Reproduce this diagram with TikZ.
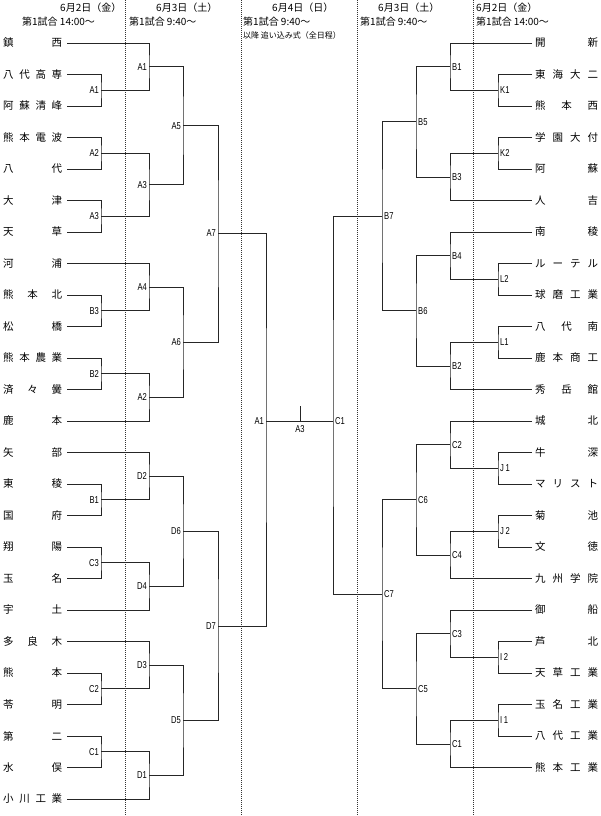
\documentclass[tikz,border=0pt]{standalone}
\usepackage{fontspec}
\setmainfont{Noto Sans CJK JP}
\newfontfamily\jp{Noto Sans CJK JP}
\newfontfamily\lblfont[FakeStretch=0.76]{Liberation Sans}
\tikzset{
  br/.style={draw=black!85, line width=0.8pt},
  sepline/.style={draw=black!80, line width=0.7pt, dash pattern=on 1pt off 1pt},
  lteam/.style={anchor=west, inner sep=0pt, font=\jp\fontsize{10.5}{10.5}\selectfont},
  llab/.style={anchor=east, inner sep=0pt, xshift=-2pt, font=\lblfont\fontsize{10}{10}\selectfont},
  rlab/.style={anchor=west, inner sep=0pt, xshift=2pt, font=\lblfont\fontsize{10}{10}\selectfont},
  hdr/.style={anchor=west, inner sep=0pt, font=\jp\fontsize{10}{10}\selectfont},
  hdrs/.style={anchor=west, inner sep=0pt, font=\jp\fontsize{8}{8}\selectfont},
}
\newcommand\NmL[3]{\node[lteam] (#1) at (3,#2) {\hbox to 64pt{#3\kern5pt}};}
\newcommand\NmR[3]{\node[lteam] (#1) at (532,#2) {\hbox to 66pt{\kern3pt #3}};}
\newcommand\LMatch[6]{\coordinate (#1) at (#2,#3);
  \draw[br] (#4) -| (#1) |- (#5);
  \node[llab] (#1-t) at (#1) {#6};}
\newcommand\RMatch[6]{\coordinate (#1) at (#2,#3);
  \draw[br] (#4) -| (#1) |- (#5);
  \node[rlab] (#1-t) at (#1) {#6};}
\begin{document}
\begin{tikzpicture}[x=1pt,y=-1pt]
\useasboundingbox (0,0) rectangle (600,816);
% day separators
\foreach \xx in {125,241,357,473} {\draw[sepline] (\xx,0) -- (\xx,816);}
% headers
\node[hdr] (h1a) at (60,8) {6月2日（金）};
\node[hdr] (h1b) at (22,22) {第1試合\ 14:00～};
\node[hdr] (h2a) at (156,8) {6月3日（土）};
\node[hdr] (h2b) at (129,22) {第1試合\ 9:40～};
\node[hdr] (h3a) at (272,8) {6月4日（日）};
\node[hdr] (h3b) at (243,22) {第1試合\ 9:40～};
\node[hdrs] (h3c) at (243,35) {以降\ 追い込み式（全日程）};
\node[hdr] (h4a) at (378,8) {6月3日（土）};
\node[hdr] (h4b) at (360,22) {第1試合\ 9:40～};
\node[hdr] (h5a) at (476,8) {6月2日（金）};
\node[hdr] (h5b) at (476,22) {第1試合\ 14:00～};
% left teams
\NmL{L0}{43}{鎮\hfill 西}
\NmL{L1}{74.5}{八\hfill 代\hfill 高\hfill 専}
\NmL{L2}{106}{阿\hfill 蘇\hfill 清\hfill 峰}
\NmL{L3}{137.5}{熊\hfill 本\hfill 電\hfill 波}
\NmL{L4}{169}{八\hfill 代}
\NmL{L5}{200.5}{大\hfill 津}
\NmL{L6}{232}{天\hfill 草}
\NmL{L7}{263.5}{河\hfill 浦}
\NmL{L8}{295}{熊\hfill 本\hfill 北}
\NmL{L9}{326.5}{松\hfill 橋}
\NmL{L10}{358}{熊\hfill 本\hfill 農\hfill 業}
\NmL{L11}{389.5}{済\hfill 々\hfill 黌}
\NmL{L12}{421}{鹿\hfill 本}
\NmL{L13}{452.5}{矢\hfill 部}
\NmL{L14}{484}{東\hfill 稜}
\NmL{L15}{515.5}{国\hfill 府}
\NmL{L16}{547}{翔\hfill 陽}
\NmL{L17}{578.5}{玉\hfill 名}
\NmL{L18}{610}{宇\hfill 土}
\NmL{L19}{641.5}{多\hfill 良\hfill 木}
\NmL{L20}{673}{熊\hfill 本}
\NmL{L21}{704.5}{苓\hfill 明}
\NmL{L22}{736}{第\hfill 二}
\NmL{L23}{767.5}{水\hfill 俣}
\NmL{L24}{799}{小\hfill 川\hfill 工\hfill 業}
% right teams
\NmR{R0}{43}{開\hfill 新}
\NmR{R1}{74.5}{東\hfill 海\hfill 大\hfill 二}
\NmR{R2}{106}{熊\hfill 本\hfill 西}
\NmR{R3}{137.5}{学\hfill 園\hfill 大\hfill 付}
\NmR{R4}{169}{阿\hfill 蘇}
\NmR{R5}{200.5}{人\hfill 吉}
\NmR{R6}{232}{南\hfill 稜}
\NmR{R7}{263.5}{ル\hfill ー\hfill テ\hfill ル}
\NmR{R8}{295}{球\hfill 磨\hfill 工\hfill 業}
\NmR{R9}{326.5}{八\hfill 代\hfill 南}
\NmR{R10}{358}{鹿\hfill 本\hfill 商\hfill 工}
\NmR{R11}{389.5}{秀\hfill 岳\hfill 館}
\NmR{R12}{421}{城\hfill 北}
\NmR{R13}{452.5}{牛\hfill 深}
\NmR{R14}{484}{マ\hfill リ\hfill ス\hfill ト}
\NmR{R15}{515.5}{菊\hfill 池}
\NmR{R16}{547}{文\hfill 徳}
\NmR{R17}{578.5}{九\hfill 州\hfill 学\hfill 院}
\NmR{R18}{610}{御\hfill 船}
\NmR{R19}{641.5}{芦\hfill 北}
\NmR{R20}{673}{天\hfill 草\hfill 工\hfill 業}
\NmR{R21}{704.5}{玉\hfill 名\hfill 工\hfill 業}
\NmR{R22}{736}{八\hfill 代\hfill 工\hfill 業}
\NmR{R23}{767.5}{熊\hfill 本\hfill 工\hfill 業}
% left round 1 (x=101)
\LMatch{la1}{101}{90.25}{L1.east}{L2.east}{A1}
\LMatch{la2}{101}{153.25}{L3.east}{L4.east}{A2}
\LMatch{la3}{101}{216.25}{L5.east}{L6.east}{A3}
\LMatch{lb3}{101}{310.75}{L8.east}{L9.east}{B3}
\LMatch{lb2}{101}{373.75}{L10.east}{L11.east}{B2}
\LMatch{lb1}{101}{499.75}{L14.east}{L15.east}{B1}
\LMatch{lc3}{101}{562.75}{L16.east}{L17.east}{C3}
\LMatch{lc2}{101}{688.75}{L20.east}{L21.east}{C2}
\LMatch{lc1}{101}{751.75}{L22.east}{L23.east}{C1}
% left round 2 (x=149)
\LMatch{ma1}{149}{66.6}{L0.east}{la1}{A1}
\LMatch{ma3}{149}{184.75}{la2}{la3}{A3}
\LMatch{ma4}{149}{287.1}{L7.east}{lb3}{A4}
\LMatch{ma2}{149}{397.4}{lb2}{L12.east}{A2}
\LMatch{md2}{149}{476.1}{L13.east}{lb1}{D2}
\LMatch{md4}{149}{586.4}{lc3}{L18.east}{D4}
\LMatch{md3}{149}{665.1}{L19.east}{lc2}{D3}
\LMatch{md1}{149}{775.4}{lc1}{L24.east}{D1}
% left round 3 (x=183)
\LMatch{na5}{183}{125.7}{ma1}{ma3}{A5}
\LMatch{na6}{183}{342.25}{ma4}{ma2}{A6}
\LMatch{nd6}{183}{531.25}{md2}{md4}{D6}
\LMatch{nd5}{183}{720.25}{md3}{md1}{D5}
% left round 4 (x=218)
\LMatch{oa7}{218}{233.5}{na5}{na6}{A7}
\LMatch{od7}{218}{626}{nd6}{nd5}{D7}
% right round 1 (x=498)
\RMatch{rk1}{498}{90.25}{R1.west}{R2.west}{K1}
\RMatch{rk2}{498}{153.25}{R3.west}{R4.west}{K2}
\RMatch{rl2}{498}{279.25}{R7.west}{R8.west}{L2}
\RMatch{rl1}{498}{342.25}{R9.west}{R10.west}{L1}
\RMatch{rj1}{498}{468.25}{R13.west}{R14.west}{J\,1}
\RMatch{rj2}{498}{531.25}{R15.west}{R16.west}{J\,2}
\RMatch{ri2}{498}{657.25}{R19.west}{R20.west}{I\,2}
\RMatch{ri1}{498}{720.25}{R21.west}{R22.west}{I\,1}
% right round 2 (x=450)
\RMatch{sb1}{450}{66.6}{R0.west}{rk1}{B1}
\RMatch{sb3}{450}{176.9}{rk2}{R5.west}{B3}
\RMatch{sb4}{450}{255.6}{R6.west}{rl2}{B4}
\RMatch{sb2}{450}{365.9}{rl1}{R11.west}{B2}
\RMatch{sc2}{450}{444.6}{R12.west}{rj1}{C2}
\RMatch{sc4}{450}{554.9}{rj2}{R17.west}{C4}
\RMatch{sc3}{450}{633.6}{R18.west}{ri2}{C3}
\RMatch{sc1}{450}{743.9}{ri1}{R23.west}{C1}
% right round 3 (x=416)
\RMatch{tb5}{416}{121.75}{sb1}{sb3}{B5}
\RMatch{tb6}{416}{310.75}{sb4}{sb2}{B6}
\RMatch{tc6}{416}{499.75}{sc2}{sc4}{C6}
\RMatch{tc5}{416}{688.75}{sc3}{sc1}{C5}
% right round 4 (x=382)
\RMatch{ub7}{382}{216.25}{tb5}{tb6}{B7}
\RMatch{uc7}{382}{594.25}{tc6}{tc5}{C7}
% final
\LMatch{fl}{266}{421}{oa7}{od7}{A1}
\RMatch{fr}{333}{421}{ub7}{uc7}{C1}
\draw[br] (fl) -- (fr);
\coordinate (fm) at (300,421);
\coordinate (ftop) at (300,406);
\draw[br] (fm) -- (ftop);
\node[anchor=north, inner sep=0pt, yshift=-4pt, font=\lblfont\fontsize{10}{10}\selectfont] (fm-t) at (fm) {A3};
\end{tikzpicture}
\end{document}
